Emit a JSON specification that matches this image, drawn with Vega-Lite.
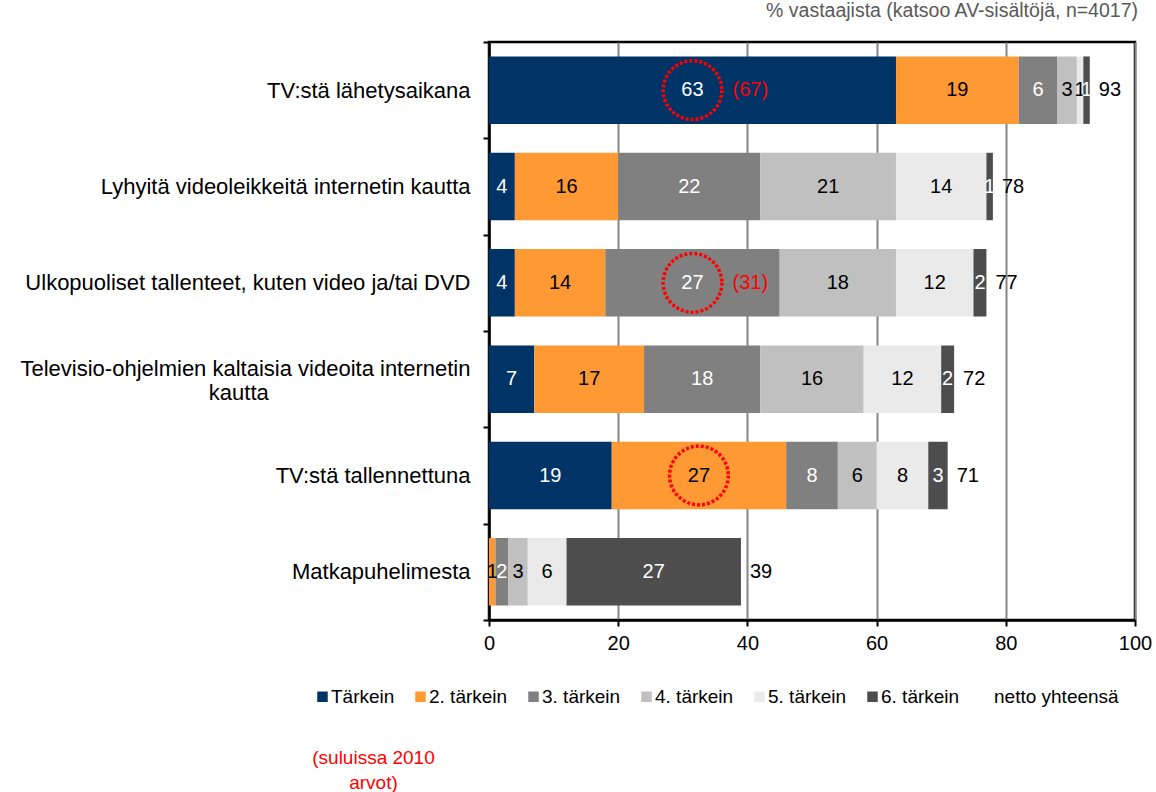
{
  "$schema": "https://vega.github.io/schema/vega-lite/v6.json",
  "autosize": {"type": "none"},
  "padding": {"left": 489, "top": 42, "right": 21, "bottom": 172},
  "width": 646,
  "height": 578,
  "title": {"text": "% vastaajista (katsoo AV-sisältöjä, n=4017)", "anchor": "end", "frame": "group", "color": "#595959", "fontSize": 19.5, "fontWeight": "normal", "font": "Liberation Sans", "offset": 10, "dx": 3},
  "config": {
    "font": "Liberation Sans",
    "view": {"stroke": "#000000", "strokeWidth": 2.5},
    "text": {"font": "Liberation Sans"}
  },
  "data": {"values": [
    {"cat": "TV:stä lähetysaikana", "series": "Tärkein", "value": 63, "circled": true, "prev": "(67)"},
    {"cat": "TV:stä lähetysaikana", "series": "2. tärkein", "value": 19},
    {"cat": "TV:stä lähetysaikana", "series": "3. tärkein", "value": 6},
    {"cat": "TV:stä lähetysaikana", "series": "4. tärkein", "value": 3},
    {"cat": "TV:stä lähetysaikana", "series": "5. tärkein", "value": 1},
    {"cat": "TV:stä lähetysaikana", "series": "6. tärkein", "value": 1},
    {"cat": "Lyhyitä videoleikkeitä internetin kautta", "series": "Tärkein", "value": 4},
    {"cat": "Lyhyitä videoleikkeitä internetin kautta", "series": "2. tärkein", "value": 16},
    {"cat": "Lyhyitä videoleikkeitä internetin kautta", "series": "3. tärkein", "value": 22},
    {"cat": "Lyhyitä videoleikkeitä internetin kautta", "series": "4. tärkein", "value": 21},
    {"cat": "Lyhyitä videoleikkeitä internetin kautta", "series": "5. tärkein", "value": 14},
    {"cat": "Lyhyitä videoleikkeitä internetin kautta", "series": "6. tärkein", "value": 1},
    {"cat": "Ulkopuoliset tallenteet, kuten video ja/tai DVD", "series": "Tärkein", "value": 4},
    {"cat": "Ulkopuoliset tallenteet, kuten video ja/tai DVD", "series": "2. tärkein", "value": 14},
    {"cat": "Ulkopuoliset tallenteet, kuten video ja/tai DVD", "series": "3. tärkein", "value": 27, "circled": true, "prev": "(31)"},
    {"cat": "Ulkopuoliset tallenteet, kuten video ja/tai DVD", "series": "4. tärkein", "value": 18},
    {"cat": "Ulkopuoliset tallenteet, kuten video ja/tai DVD", "series": "5. tärkein", "value": 12},
    {"cat": "Ulkopuoliset tallenteet, kuten video ja/tai DVD", "series": "6. tärkein", "value": 2},
    {"cat": "Televisio-ohjelmien kaltaisia videoita internetin kautta", "series": "Tärkein", "value": 7},
    {"cat": "Televisio-ohjelmien kaltaisia videoita internetin kautta", "series": "2. tärkein", "value": 17},
    {"cat": "Televisio-ohjelmien kaltaisia videoita internetin kautta", "series": "3. tärkein", "value": 18},
    {"cat": "Televisio-ohjelmien kaltaisia videoita internetin kautta", "series": "4. tärkein", "value": 16},
    {"cat": "Televisio-ohjelmien kaltaisia videoita internetin kautta", "series": "5. tärkein", "value": 12},
    {"cat": "Televisio-ohjelmien kaltaisia videoita internetin kautta", "series": "6. tärkein", "value": 2},
    {"cat": "TV:stä tallennettuna", "series": "Tärkein", "value": 19},
    {"cat": "TV:stä tallennettuna", "series": "2. tärkein", "value": 27, "circled": true},
    {"cat": "TV:stä tallennettuna", "series": "3. tärkein", "value": 8},
    {"cat": "TV:stä tallennettuna", "series": "4. tärkein", "value": 6},
    {"cat": "TV:stä tallennettuna", "series": "5. tärkein", "value": 8},
    {"cat": "TV:stä tallennettuna", "series": "6. tärkein", "value": 3},
    {"cat": "Matkapuhelimesta", "series": "Tärkein", "value": 0},
    {"cat": "Matkapuhelimesta", "series": "2. tärkein", "value": 1},
    {"cat": "Matkapuhelimesta", "series": "3. tärkein", "value": 2},
    {"cat": "Matkapuhelimesta", "series": "4. tärkein", "value": 3},
    {"cat": "Matkapuhelimesta", "series": "5. tärkein", "value": 6},
    {"cat": "Matkapuhelimesta", "series": "6. tärkein", "value": 27}
  ]},
  "transform": [
    {"calculate": "indexof(['Tärkein','2. tärkein','3. tärkein','4. tärkein','5. tärkein','6. tärkein'], datum.series)", "as": "rank"},
    {"stack": "value", "groupby": ["cat"], "sort": [{"field": "rank", "order": "ascending"}], "as": ["v0", "v1"]},
    {"calculate": "(datum.v0 + datum.v1) / 2", "as": "mid"},
    {"calculate": "indexof(['Tärkein','3. tärkein','6. tärkein'], datum.series) >= 0 ? '#ffffff' : '#000000'", "as": "lc"}
  ],
  "encoding": {
    "y": {
      "field": "cat", "type": "nominal",
      "sort": ["TV:stä lähetysaikana", "Lyhyitä videoleikkeitä internetin kautta", "Ulkopuoliset tallenteet, kuten video ja/tai DVD", "Televisio-ohjelmien kaltaisia videoita internetin kautta", "TV:stä tallennettuna", "Matkapuhelimesta"],
      "scale": {"padding": 0},
      "axis": {
        "title": null,
        "labelExpr": "datum.value == 'Televisio-ohjelmien kaltaisia videoita internetin kautta' ? ['Televisio-ohjelmien kaltaisia videoita internetin', 'kautta\u00a0\u00a0\u00a0\u00a0\u00a0\u00a0\u00a0\u00a0\u00a0\u00a0\u00a0\u00a0\u00a0\u00a0\u00a0\u00a0\u00a0\u00a0\u00a0\u00a0\u00a0\u00a0\u00a0\u00a0\u00a0\u00a0\u00a0\u00a0\u00a0\u00a0\u00a0\u00a0\u00a0\u2060'] : datum.value",
        "labelOffset": {"condition": {"test": "datum.value == 'Televisio-ohjelmien kaltaisia videoita internetin kautta'", "value": -11}, "value": 0},
        "labelFontSize": 22,
        "labelColor": "#000000",
        "labelFont": "Liberation Sans",
        "labelPadding": 13,
        "labelLineHeight": 24,
        "labelLimit": 600,
        "tickBand": "extent",
        "tickSize": 6,
        "tickWidth": 2,
        "tickColor": "#000000",
        "domainColor": "#000000",
        "domainWidth": 2.5
      }
    }
  },
  "layer": [
    {
      "mark": {"type": "bar", "height": {"band": 0.7}},
      "encoding": {
        "x": {"field": "v0", "type": "quantitative",
          "scale": {"domain": [0, 100]},
          "axis": {
            "values": [0, 20, 40, 60, 80, 100],
            "title": ["(suluissa 2010", "arvot)"],
            "titleColor": "#ff0000",
            "titleFontSize": 19,
            "titleFontWeight": "normal",
            "titleFont": "Liberation Sans",
            "titleX": -116,
            "titleY": 128,
            "titleAlign": "center",
            "titleBaseline": "top",
            "titleLineHeight": 25,
            "labelFontSize": 20,
            "labelColor": "#000000",
            "labelFont": "Liberation Sans",
            "labelPadding": 7,
            "labelFlush": false,
            "tickSize": 6,
            "tickWidth": 2,
            "tickColor": "#000000",
            "domainColor": "#000000",
            "domainWidth": 2.5,
            "grid": true,
            "gridColor": "#868686",
            "gridWidth": 2
          }
        },
        "x2": {"field": "v1"},
        "color": {
          "field": "series", "type": "nominal",
          "scale": {
            "domain": ["Tärkein", "2. tärkein", "3. tärkein", "4. tärkein", "5. tärkein", "6. tärkein", "netto yhteensä"],
            "range": ["#003366", "#ff9933", "#808080", "#c0c0c0", "#eaeaea", "#4d4d4d", "#ffffff"]
          },
          "legend": {
            "title": null,
            "orient": "none",
            "direction": "horizontal",
            "legendX": -176,
            "legendY": 645,
            "symbolType": "square",
            "symbolSize": 110,
            "symbolStrokeWidth": 0,
            "symbolOpacity": 1,
            "labelFontSize": 19,
            "labelFont": "Liberation Sans",
            "labelColor": "#000000",
            "labelOffset": -1,
            "columnPadding": 16
          }
        }
      }
    },
    {
      "transform": [{"filter": "datum.value > 0"}],
      "mark": {"type": "text", "fontSize": 20, "baseline": "middle", "align": "center"},
      "encoding": {
        "x": {"field": "mid", "type": "quantitative"},
        "text": {"field": "value", "type": "quantitative"},
        "color": {"field": "lc", "type": "nominal", "scale": null}
      }
    },
    {
      "transform": [{"filter": "datum.circled == true"}],
      "mark": {"type": "point", "shape": "circle", "filled": false, "stroke": "#ff0000", "strokeWidth": 3.5, "strokeDash": [3, 2], "size": 3450, "opacity": 1},
      "encoding": {
        "x": {"field": "mid", "type": "quantitative"}
      }
    },
    {
      "transform": [{"filter": "isValid(datum.prev)"}],
      "mark": {"type": "text", "fontSize": 20, "baseline": "middle", "align": "left", "dx": 40, "color": "#ff0000"},
      "encoding": {
        "x": {"field": "mid", "type": "quantitative"},
        "text": {"field": "prev"}
      }
    },
    {
      "transform": [{"filter": "datum.rank == 5"}],
      "mark": {"type": "text", "fontSize": 20, "baseline": "middle", "align": "left", "dx": 9, "color": "#000000"},
      "encoding": {
        "x": {"field": "v1", "type": "quantitative"},
        "text": {"field": "v1", "type": "quantitative"}
      }
    }
  ]
}
